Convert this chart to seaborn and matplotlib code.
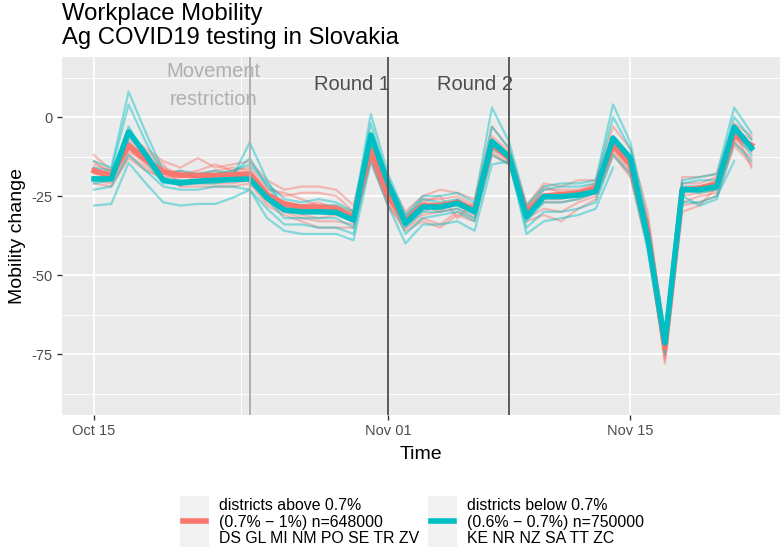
import numpy as np
import pandas as pd
import matplotlib
matplotlib.use("Agg")
import matplotlib.pyplot as plt
import matplotlib.dates as mdates
from matplotlib.lines import Line2D
from matplotlib.patches import Rectangle
import seaborn as sns

# ---------------- data ----------------
start_date = "2020-10-15"
end_date = "2020-11-22"

red_mean = [-17, -18.5, -9, -13.6, -17.4, -18.4, -18.5, -18.5, -18.3, -18, -24.5, -27.5, -28.5, -28.5, -29,
            -31.6, -10.5, -25, -33, -28, -28, -27, -29.4, -8.5, -13, -30, -25, -24.5, -24, -22.5, -8.9, -15,
            -36, -73, -23, -22.5, -21, -5.7, -8.9]
cyan_mean = [-19.6, -19.6, -4.7, -12, -20, -20.9, -20.3, -20, -19.8, -19.6, -25.6, -29.4, -30, -30, -30.2,
             -32.6, -5.7, -21, -33.6, -28.5, -28.5, -27.3, -30, -7.8, -12.6, -31.6, -25.2, -25.2, -24.7, -23.6,
             -6.7, -13, -38, -71.5, -23, -23, -22, -3.2, -9.8]

red_districts = {
    "DS": [-12, -17, -6, -10, -14, -16, -13, -16, -15, -14, -20, -23, -22, -22, -23, -28, -5, -20, -30, -25, -23, -24, -26, -3, -10, -28, -21, -22, -20, -20, -3, -10, -30, -70, -19, -19, -18, -2, -6],
    "GL": [-14, -18, -8, -12, -16, -18, -17, -15, -17, -16, -22, -25, -24, -24, -25, -30, -8, -23, -32, -26, -26, -25, -28, -6, -11, -29, -23, -23, -23, -21, -6, -13, -33, -71, -21, -21, -19, -4, -7],
    "MI": [-16, -19, -9, -13, -18, -17, -19, -18, -17, -18, -24, -27, -28, -27, -29, -31, -10, -25, -33, -28, -30, -26, -29, -8, -13, -30, -25, -24, -24, -22, -8, -15, -35, -73, -23, -22, -21, -5, -9],
    "NM": [-18, -19, -10, -15, -19, -19, -18, -20, -19, -19, -25, -28, -30, -30, -30, -32, -11, -26, -33, -30, -28, -28, -30, -9, -14, -31, -26, -26, -24, -23, -9, -16, -37, -74, -24, -23, -22, -6, -10],
    "PO": [-19, -20, -11, -14, -18, -20, -20, -19, -20, -19, -26, -29, -31, -32, -31, -33, -12, -27, -34, -31, -30, -29, -31, -10, -14, -31, -27, -27, -26, -24, -10, -17, -39, -75, -25, -24, -23, -7, -11],
    "SE": [-20, -21, -12, -16, -20, -21, -21, -21, -21, -20, -27, -30, -32, -33, -33, -34, -13, -28, -35, -32, -34, -30, -32, -11, -15, -32, -29, -30, -27, -25, -11, -18, -40, -76, -27, -25, -24, -8, -13],
    "TR": [-21, -22, -13, -17, -19, -22, -22, -22, -22, -21, -28, -31, -33, -35, -35, -35, -14, -28, -36, -33, -35, -31, -33, -12, -15, -33, -31, -33, -29, -26, -12, -19, -41, -77, -28, -27, -25, -9, -15],
    "ZV": [-15, -17, -7, -11, -15, -22, -18, -17, -16, -17, -23, -24, -26, -28, -28, -30, -9, -24, -31, -27, -25, -32, -27, -7, -12, -29, -22, -24, -25, -21, -7, -14, -36, -78, -30, -28, -22, -4, -16],
}
cyan_districts = {
    "KE": [-14, -16, 8, -5, -17, -19, -18, -18, -17, -15, -21, -26, -27, -26, -27, -30, 1, -18, -31, -25, -25, -24, -27, 3, -8, -28, -22, -21, -21, -20, 4, -8, -33, -68, -20, -19, -18, 3, -5],
    "NR": [-16, -17, 4, -8, -18, -17, -18, -17, -18, -13, -22, -28, -28, -28, -28, -31, -2, -20, -32, -26, -27, -26, -29, -3, -10, -30, -23, -22, -22, -21, 0, -10, -36, -70, -21, -20, -20, 0, -7],
    "NZ": [-19, -19, -3, -12, -20, -20, -20, -20, -19, -8, -20, -29, -30, -30, -30, -33, -6, -21, -34, -28, -28, -27, -30, -7, -12, -32, -25, -25, -24, -23, -6, -13, -38, -71, -22, -22, -21, -3, -9],
    "SA": [-21, -20, -8, -14, -21, -21, -21, -21, -20, -20, -26, -32, -32, -32, -32, -35, -8, -22, -35, -30, -30, -29, -32, -10, -13, -33, -27, -27, -26, -24, -8, -15, -40, -73, -23, -24, -23, -5, -12],
    "TT": [-23, -22, -12, -17, -22, -23, -23, -22, -22, -23, -29, -34, -34, -35, -35, -37, -10, -24, -37, -32, -31, -30, -33, -12, -15, -35, -30, -30, -29, -27, -12, -18, -42, -75, -25, -28, -26, -8, -14],
    "ZC": [-28, -27.5, -14.5, -21, -27, -28, -27.5, -27.5, -25.6, -23, -32, -36, -37, -37, -37, -39, -14, -28, -40, -34, -34, -33, -36, -15, -14, -37, -33, -32, -31, -29, -16, np.nan, np.nan, np.nan, -27, -27, -25, -14, np.nan],
}

group_labels = ["districts above 0.7%\n(0.7% \u2212 1%) n=648000\nDS GL MI NM PO SE TR ZV",
                "districts below 0.7%\n(0.6% \u2212 0.7%) n=750000\nKE NR NZ SA TT ZC"]
y_ticks = [0, -25, -50, -75]
x_tick_dates = ["2020-10-15", "2020-11-01", "2020-11-15"]
x_tick_labels = ["Oct 15", "Nov 01", "Nov 15"]
event_dates = ["2020-10-24", "2020-11-01", "2020-11-08"]
event_labels = ["Movement\nrestriction", "Round 1", "Round 2"]

colors = ["#F8766D", "#00BFC4"]

# ---------------- build frames ----------------
dates = pd.date_range(start_date, end_date)
rows = []
for gi, districts in enumerate([red_districts, cyan_districts]):
    for name, vals in districts.items():
        seg = 0
        for d, v in zip(dates, vals):
            if np.isnan(v):
                seg += 1
                continue
            rows.append({"date": d, "value": v, "group": group_labels[gi], "unit": f"{name}_{seg}"})
thin = pd.DataFrame(rows)
means = pd.concat([
    pd.DataFrame({"date": dates, "value": red_mean, "group": group_labels[0]}),
    pd.DataFrame({"date": dates, "value": cyan_mean, "group": group_labels[1]}),
])
palette = dict(zip(group_labels, colors))

# ---------------- figure ----------------
plt.rcParams["font.family"] = ["Liberation Sans", "DejaVu Sans"]
fig = plt.figure(figsize=(7.84, 5.47), dpi=100)
ax = fig.add_axes([62 / 784, 1 - 415 / 547, (780 - 62) / 784, (415 - 57) / 547])
ax.set_facecolor("#EBEBEB")
for s in ax.spines.values():
    s.set_visible(False)

sns.lineplot(data=thin, x="date", y="value", hue="group", units="unit", estimator=None,
             palette=palette, hue_order=group_labels, lw=1.6, alpha=0.45, legend=False, ax=ax,
             zorder=3)
sns.lineplot(data=means[means.group == group_labels[0]], x="date", y="value", color=colors[0],
             lw=4.0, legend=False, ax=ax, zorder=4)
sns.lineplot(data=means[means.group == group_labels[1]], x="date", y="value", color=colors[1],
             lw=4.0, legend=False, ax=ax, zorder=5)

# event lines
ev = [pd.Timestamp(d) for d in event_dates]
ax.axvline(ev[0], color="#AFAFAF", lw=1.4, zorder=6)
ax.axvline(ev[1], color="#5A5A5A", lw=1.4, zorder=6)
ax.axvline(ev[2], color="#5A5A5A", lw=1.4, zorder=6)
ax.text(ev[0] - pd.Timedelta(days=2.1), 10.0, event_labels[0], ha="center", va="center",
        fontsize=14.5, color="#AFAFAF", linespacing=1.6, zorder=7)
ax.text(ev[1] + pd.Timedelta(days=0.1), 10.4, event_labels[1], ha="right", va="center",
        fontsize=14.5, color="#4D4D4D", zorder=7)
ax.text(ev[2] + pd.Timedelta(days=0.2), 10.4, event_labels[2], ha="right", va="center",
        fontsize=14.5, color="#4D4D4D", zorder=7)

# axes limits / ticks
x0 = pd.Timestamp(start_date)
ax.set_xlim(x0 - pd.Timedelta(days=1.85), x0 + pd.Timedelta(days=39.65))
ax.set_ylim(-94.3, 19)
ax.set_yticks(y_ticks)
ax.set_yticklabels([str(t) for t in y_ticks])
ax.set_yticks([12.5, -12.5, -37.5, -62.5, -87.5], minor=True)
ax.set_xticks([pd.Timestamp(d) for d in x_tick_dates])
ax.set_xticklabels(x_tick_labels)
ax.set_xticks([pd.Timestamp("2020-10-23 12:00"), pd.Timestamp("2020-11-08")], minor=True)
ax.grid(which="major", color="white", lw=1.3, zorder=0)
ax.grid(which="minor", color="white", lw=0.65, zorder=0)
ax.set_axisbelow(True)
ax.tick_params(which="major", length=3.5, width=1.0, color="#333333", labelsize=10.5,
               labelcolor="#4D4D4D", pad=3)
ax.tick_params(which="minor", length=0)
ax.set_xlabel("Time", fontsize=14, labelpad=6, color="black")
ax.set_ylabel("Mobility change", fontsize=14, labelpad=4, color="black")

# title
fig.text(62 / 784, 1 - 3 / 547, "Workplace Mobility\nAg COVID19 testing in Slovakia",
         ha="left", va="top", fontsize=17.2, linespacing=1.1)

# legend (ggplot style, bottom)
def legend_key(xpx, color, label):
    fig.add_artist(Rectangle((xpx / 784, 0), 29 / 784, 51 / 547, transform=fig.transFigure,
                             facecolor="#F2F2F2", edgecolor="none"))
    fig.add_artist(Line2D([(xpx + 3) / 784, (xpx + 26) / 784], [1 - 521 / 547, 1 - 521 / 547],
                          transform=fig.transFigure, color=color, lw=4))
    fig.text((xpx + 39) / 784, 1 - 522 / 547, label, ha="left", va="center", fontsize=11.4,
             linespacing=1.1)

legend_key(180, colors[0], group_labels[0])
legend_key(428, colors[1], group_labels[1])

fig.savefig("out.png", dpi=100)
